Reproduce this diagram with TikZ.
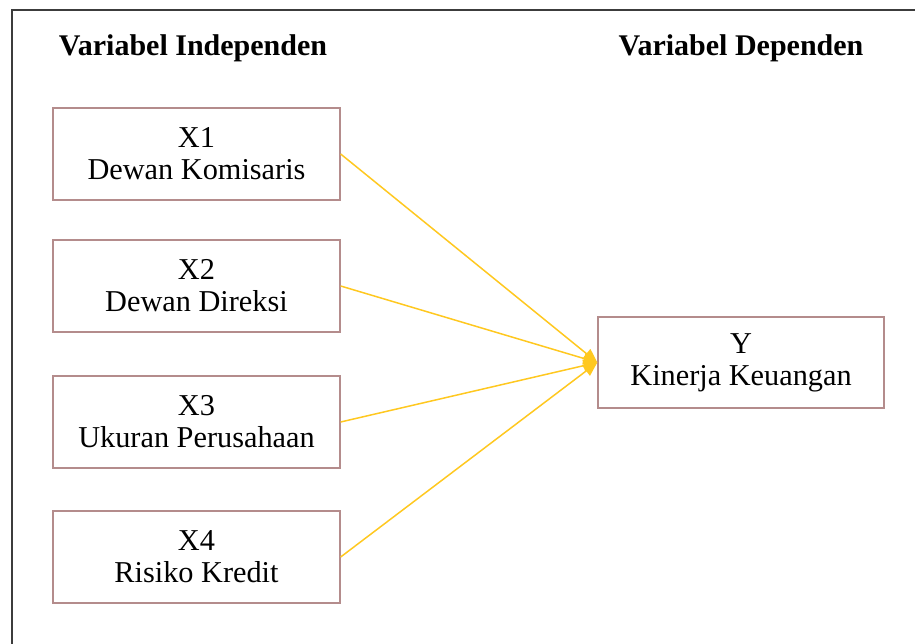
\documentclass[tikz,border=0pt]{standalone}
\usepackage{fontspec}
\setmainfont{Liberation Serif}
\usetikzlibrary{arrows.meta}
\definecolor{boxline}{HTML}{B48C8C}
\definecolor{frameline}{HTML}{3C3C3C}
\definecolor{arrowyel}{HTML}{FFC820}
\tikzset{
  varbox/.style={draw=boxline, line width=1.3pt, minimum width=287pt, minimum height=92pt,
    align=center, inner sep=0pt, font=\fontsize{30.3}{32}\selectfont},
  header/.style={font=\fontsize{30}{32}\selectfont\bfseries, inner sep=0pt},
  link/.style={draw=arrowyel, line width=1.5pt, -{Triangle[length=14pt,width=12pt]}}
}
\begin{document}
\begin{tikzpicture}[x=1pt,y=1pt]
\useasboundingbox (0,0) rectangle (915,644);
\draw[frameline, line width=2pt] (12,0) -- (12,634) -- (915,634);
\node[header] (hind) at (193,596) {Variabel Independen};
\node[header] (hdep) at (741,596) {Variabel Dependen};
\node[varbox] (x1) at (196.5,490) {X1\\Dewan Komisaris};
\node[varbox] (x2) at (196.5,358) {X2\\Dewan Direksi};
\node[varbox] (x3) at (196.5,222) {X3\\Ukuran Perusahaan};
\node[varbox] (x4) at (196.5,87) {X4\\Risiko Kredit};
\node[varbox, minimum width=286pt, minimum height=91pt] (y) at (741,281.5) {Y\\Kinerja Keuangan};
\draw[link] (x1.east) -- (y.west);
\draw[link] (x2.east) -- (y.west);
\draw[link] (x3.east) -- (y.west);
\draw[link] (x4.east) -- (y.west);
\end{tikzpicture}
\end{document}
